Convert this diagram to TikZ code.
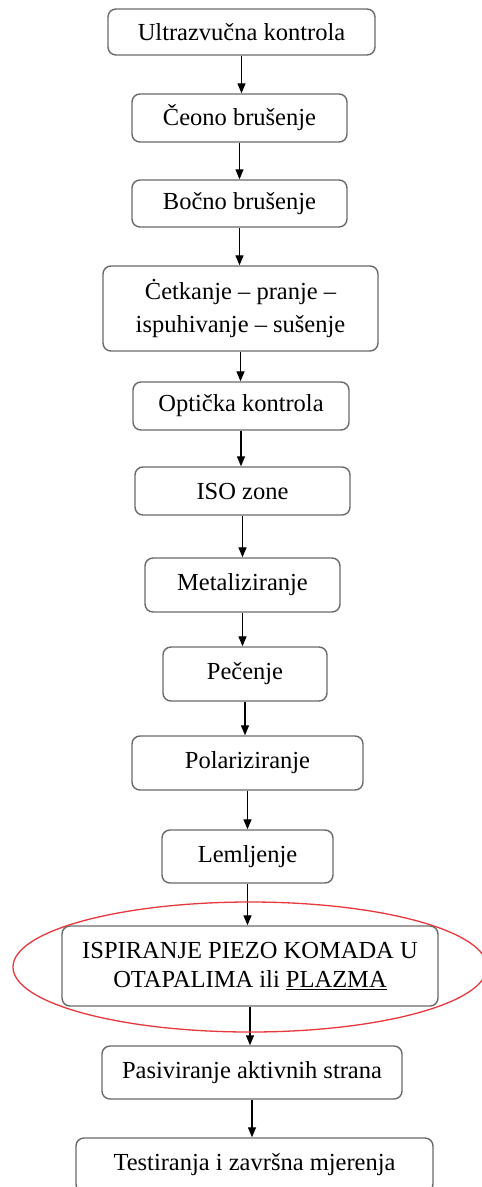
\documentclass[tikz,border=0pt]{standalone}
\usepackage{fontspec}
\setmainfont{Liberation Serif}
\usetikzlibrary{arrows.meta}
\definecolor{boxgray}{HTML}{6A6A6A}
\definecolor{markred}{HTML}{E8383D}
\tikzset{
  stepbox/.style={draw=boxgray, line width=1.4pt, rounded corners=8pt,
    inner sep=0pt, align=center, fill=white,
    font=\fontsize{24.5}{30}\selectfont},
  flow/.style={draw=black, line width=1.3pt,
    -{Triangle[length=10pt,width=8pt]}},
}
\begin{document}
\begin{tikzpicture}[x=1pt,y=-1pt]
\useasboundingbox (0,0) rectangle (482,1187);
\clip (0,0) rectangle (482,1187);
\fill[white] (0,0) rectangle (482,1187);

\node[stepbox, minimum width=267pt, minimum height=46pt] (b1) at (241.5,32) {Ultrazvučna kontrola};
\node[stepbox, minimum width=215pt, minimum height=48pt] (b2) at (239.5,118) {Čeono brušenje};
\node[stepbox, minimum width=215pt, minimum height=47pt] (b3) at (239.5,203.5) {Bočno brušenje};
\node[stepbox, minimum width=275pt, minimum height=85pt] (b4) at (240.5,308.5) {Ċetkanje – pranje –\\[3pt]ispuhivanje – sušenje};
\node[stepbox, minimum width=216pt, minimum height=48pt] (b5) at (241,406) {Optička kontrola};
\node[stepbox, minimum width=215pt, minimum height=48pt] (b6) at (242.5,491) {ISO zone};
\node[stepbox, minimum width=195pt, minimum height=54pt] (b7) at (242.5,585) {Metaliziranje};
\node[stepbox, minimum width=164pt, minimum height=54pt] (b8) at (245,674) {Pečenje};
\node[stepbox, minimum width=231pt, minimum height=54pt] (b9) at (247.5,763) {Polariziranje};
\node[stepbox, minimum width=171pt, minimum height=53pt] (b10) at (247.5,856.5) {Lemljenje};
\node[stepbox, minimum width=376pt, minimum height=80pt] (b11) at (250,966) {ISPIRANJE PIEZO KOMADA U\\[-1pt]OTAPALIMA ili \underline{PLAZMA}};
\node[stepbox, minimum width=300pt, minimum height=53pt] (b12) at (252,1072.5) {Pasiviranje aktivnih strana};
\node[stepbox, minimum width=357pt, minimum height=54pt] (b13) at (254.5,1165) {Testiranja i završna mjerenja};

\foreach \a/\b in {b1/b2,b2/b3,b3/b4,b4/b5,b5/b6,b6/b7,b7/b8,b8/b9,b9/b10,b10/b11,b11/b12,b12/b13}
  \draw[flow] (\a.south) -- (\a.south |- \b.north);

% highlight round the rinsing step
\draw[markred, line width=1.3pt] (250,967) ellipse [x radius=237, y radius=65];
\end{tikzpicture}
\end{document}
